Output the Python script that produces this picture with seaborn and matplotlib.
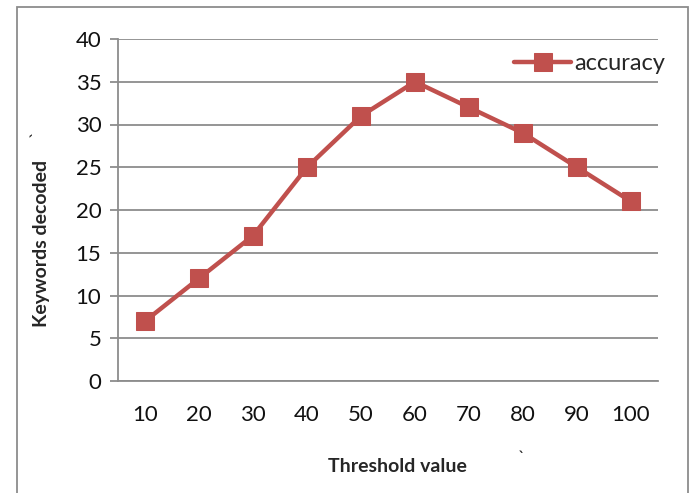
import matplotlib
matplotlib.use("Agg")
import matplotlib.pyplot as plt
import matplotlib.patches as patches
import seaborn as sns
import pandas as pd

# data
thresholds = ['10', '20', '30', '40', '50', '60', '70', '80', '90', '100']
accuracy = [7, 12, 17, 25, 31, 35, 32, 29, 25, 21]
y_ticks = [0, 5, 10, 15, 20, 25, 30, 35, 40]

df = pd.DataFrame({'pos': range(len(thresholds)), 'accuracy': accuracy})

sns.set_style('white')
plt.rcParams['font.family'] = ['Lato', 'DejaVu Sans']

RED = '#C0504D'
GRAY = '#8C8C8C'

fig = plt.figure(figsize=(6.91, 4.93), dpi=100)
ax = fig.add_axes([118 / 691, 1 - 381 / 493, 540 / 691, 342 / 493])

sns.lineplot(data=df, x='pos', y='accuracy', ax=ax, color=RED, lw=3.2,
             marker='s', markersize=13, markeredgecolor=RED, label='accuracy')

ax.set_xlim(-0.5, len(thresholds) - 0.5)
ax.set_ylim(0, 40)
ax.set_yticks(y_ticks)
ax.set_yticklabels([str(v) for v in y_ticks])
ax.yaxis.grid(True, color=GRAY, lw=1.3)
ax.set_axisbelow(True)

# category ticks between labels
ax.set_xticks(range(len(thresholds)))
ax.set_xticklabels(thresholds)
ax.set_xticks([i - 0.5 for i in range(len(thresholds) + 1)], minor=True)
ax.tick_params(axis='x', which='major', length=0, pad=17, labelsize=16, labelcolor='#111111')
ax.tick_params(axis='x', which='minor', length=7, width=1.3, color=GRAY, direction='out')
ax.tick_params(axis='y', which='major', length=6, width=1.3, color=GRAY, direction='out',
               pad=6, labelsize=16, left=True, labelcolor='#111111')

for s in ['top', 'right']:
    ax.spines[s].set_visible(False)
for s in ['left', 'bottom']:
    ax.spines[s].set_color(GRAY)
    ax.spines[s].set_linewidth(1.3)

ax.set_xlabel('Threshold value', fontsize=14, fontweight='bold')
ax.set_ylabel('Keywords decoded', fontsize=14, fontweight='bold')
ax.xaxis.set_label_coords((397 - 118) / 540, -(458 - 381) / 342)
ax.yaxis.set_label_coords(-(118 - 50) / 540, (381 - 243) / 342)

leg = ax.legend(loc='upper right', bbox_to_anchor=(1.04, 1.0), frameon=False, fontsize=17,
                handlelength=2.4, handletextpad=0.15, borderaxespad=0.2)

# stray backticks from the source document
fig.text(37 / 691, 1 - 133 / 493, '`', fontsize=13, rotation=90, ha='center', va='center')
fig.text(521 / 691, 1 - 458 / 493, '`', fontsize=13, ha='center', va='center')

# outer chart frame
fig.patches.append(patches.Rectangle((17 / 691, -0.05), 671 / 691, 1.05 - 7 / 493,
                                     transform=fig.transFigure, fill=False,
                                     edgecolor=GRAY, lw=1.3))

fig.savefig('out.png', dpi=100)
